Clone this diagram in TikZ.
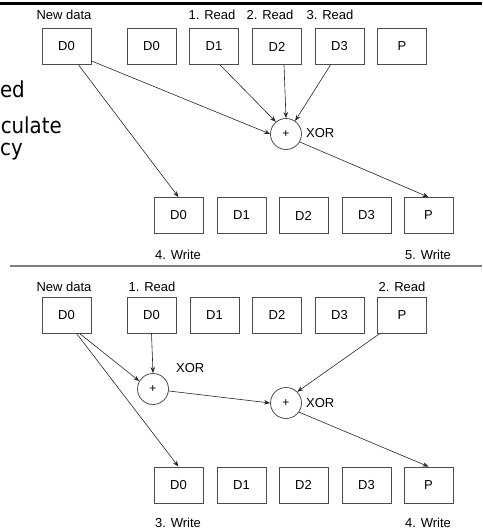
\documentclass[tikz,border=0pt]{standalone}
\usepackage{fontspec}
\setmainfont{Liberation Sans}
\newfontfamily\slidefont{DejaVu Sans Condensed}
\usetikzlibrary{arrows.meta}
\begin{document}
\begin{tikzpicture}[x=1pt,y=-1pt,
  blk/.style={draw=black!70,line width=0.8pt,minimum width=49pt,minimum height=36pt,inner sep=0pt,font=\fontsize{13}{13}\selectfont},
  xorc/.style={draw=black!70,line width=0.8pt,circle,minimum size=31pt,inner sep=0pt,font=\fontsize{12}{12}\selectfont},
  lbl/.style={font=\fontsize{13}{13}\selectfont,inner sep=0pt},
  side/.style={font=\slidefont\fontsize{22}{22}\selectfont,inner sep=0pt,anchor=base east},
  arr/.style={draw=black!85,line width=0.6pt,-{Stealth[length=6pt,width=4.5pt]}}]
\useasboundingbox (0,0) rectangle (482,530);
% rules
\draw[line width=3pt,black] (0,3.5) -- (482,3.5);
\draw[line width=2pt,black!50] (10,266) -- (482,266);
% slide text fragments
\node[side] (s1) at (25,97) {ed};
\node[side] (s2) at (62,133) {culate};
\node[side,anchor=base west] (s3) at (0,155) {cy};
% ---------- top panel ----------
\node[lbl] (tl0) at (64,15) {New data};
\node[lbl] (tl1) at (212,15) {1. Read};
\node[lbl] (tl2) at (270,15) {2. Read};
\node[lbl] (tl3) at (330,15) {3. Read};
\node[blk] (tn) at (66.5,46.5) {D0};
\node[blk] (t0) at (151.5,46.5) {D0};
\node[blk] (t1) at (214,46.5) {D1};
\node[blk] (t2) at (277,46.5) {D2};
\node[blk] (t3) at (339.5,46.5) {D3};
\node[blk] (tp) at (402,46.5) {P};
\node[xorc] (tx) at (286,134) {+};
\node[lbl,anchor=west] (txl) at (306,133) {XOR};
\node[blk] (b0) at (178.5,215.5) {D0};
\node[blk] (b1) at (241.5,215.5) {D1};
\node[blk] (b2) at (303.5,215.5) {D2};
\node[blk] (b3) at (366.5,215.5) {D3};
\node[blk] (bp) at (428.5,215.5) {P};
\node[lbl] (bw4) at (178,255) {4. Write};
\node[lbl] (bw5) at (428,255) {5. Write};
\draw[arr] (tn.south east) ++(0,-4) coordinate (c1) -- (tx.west);
\draw[arr] (tn.south) ++(12,0) coordinate (c2) -- (b0.north);
\draw[arr] ([xshift=6pt]t1.south) -- (tx.130);
\draw[arr] ([xshift=7pt]t2.south) -- (tx.north);
\draw[arr] ([xshift=-9pt]t3.south) -- (tx.55);
\draw[arr] (tx.-30) -- (bp.north);
% ---------- bottom panel ----------
\node[lbl] (ul0) at (64,287) {New data};
\node[lbl] (ul1) at (152,287) {1. Read};
\node[lbl] (ul2) at (402,287) {2. Read};
\node[blk] (un) at (66.5,315) {D0};
\node[blk] (u0) at (151.5,315) {D0};
\node[blk] (u1) at (214.5,315) {D1};
\node[blk] (u2) at (277,315) {D2};
\node[blk] (u3) at (339.5,315) {D3};
\node[blk] (up) at (402,315) {P};
\node[xorc] (ux1) at (153,389) {+};
\node[lbl,anchor=west] (ux1l) at (176,368) {XOR};
\node[xorc] (ux2) at (286,403) {+};
\node[lbl,anchor=west] (ux2l) at (306,403) {XOR};
\node[blk] (v0) at (178.5,485) {D0};
\node[blk] (v1) at (241.5,485) {D1};
\node[blk] (v2) at (303.5,485) {D2};
\node[blk] (v3) at (366.5,485) {D3};
\node[blk] (vp) at (428.5,485) {P};
\node[lbl] (vw3) at (178,523) {3. Write};
\node[lbl] (vw4) at (428,523) {4. Write};
\draw[arr] ([xshift=13pt]un.south) -- (ux1.150);
\draw[arr] ([xshift=10pt]un.south) -- (v0.north);
\draw[arr] (u0.south) -- (ux1.north);
\draw[arr] (ux1.east) ++(0,2) coordinate (c3) -- (ux2.west);
\draw[arr] ([xshift=-22pt]up.south) -- (ux2.45);
\draw[arr] (ux2.-35) -- (vp.north);
\end{tikzpicture}
\end{document}
